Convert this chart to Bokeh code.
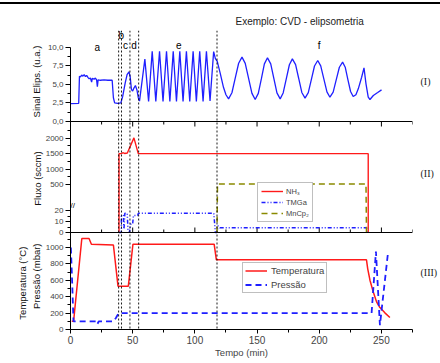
from bokeh.plotting import figure
from bokeh.models import (Range1d, FixedTicker, SingleIntervalTicker, LinearAxis,
                          Span, Legend, LegendItem, Title, Div)
from bokeh.layouts import column
from bokeh.core.properties import value
from bokeh.embed import file_html
from bokeh.resources import INLINE

# ---------------- data ----------------
# Panel I: ellipsometry signal (u.a.) vs time (min)
t_sig = [0, 6.6, 7.2, 8.0, 9.0, 10.0, 11.0, 12.0, 13.0, 14.0, 15.0, 16.0, 17.0, 17.5, 19.0,
         20.0, 21.0, 21.6, 22.2, 24.0, 27.0, 30.0, 33.5, 34.5, 35.5, 38.0, 40.5, 42.0, 44.0,
         45.5, 47.0, 48.0, 49.0, 50.0, 51.0, 52.2, 53.5, 54.5, 55.5,
         59.8, 62.8, 65.7, 68.6, 71.6, 74.4, 77.2, 79.9, 82.6, 85.2, 87.9, 90.5, 93.2, 95.9,
         98.6, 101.2, 103.9, 106.6, 109.3, 112.2, 115.1, 116.5, 118.0, 120.5, 123.0, 125.0, 127.1,
         129.8, 132.5, 135.2, 137.9, 140.5, 143.2, 145.9, 148.5, 151.0, 153.5, 155.9, 158.4,
         161.0, 163.5, 166.0, 168.6, 171.0, 173.5, 176.0, 178.4, 181.0, 183.5, 186.0, 188.6,
         191.2, 193.7, 196.2, 198.8, 201.2, 203.7, 206.2, 208.6, 211.2, 213.7, 216.2, 218.8,
         220.9, 223.0, 225.2, 227.3, 229.5, 231.4, 234.1, 236.0, 237.6, 239.4, 240.8, 243.5,
         247.0, 250.1]
sig = [2.4, 2.45, 6.1, 6.0, 6.25, 6.1, 6.3, 6.05, 6.2, 5.95, 5.75, 5.85, 5.3, 5.8, 5.7,
       5.85, 5.6, 4.7, 5.6, 5.55, 5.6, 5.55, 5.55, 3.2, 2.5, 2.45, 2.5, 3.4, 5.2,
       6.3, 6.7, 6.0, 4.3, 4.1, 4.5, 4.85, 4.2, 3.2, 2.75,
       8.4, 2.7, 9.45, 2.7, 9.45, 2.7, 9.45, 2.7, 9.45, 2.7, 9.45, 2.7, 9.45, 2.7,
       9.45, 2.7, 9.45, 2.7, 9.45, 2.75, 9.4, 8.45, 8.1, 6.4, 4.6, 3.6, 3.05,
       3.87, 5.86, 7.84, 8.66, 7.83, 5.81, 3.79, 2.96, 3.78, 5.77, 7.75, 8.57,
       7.76, 5.81, 3.86, 3.05, 3.84, 5.74, 7.64, 8.43, 7.66, 5.79, 3.91, 3.14,
       3.88, 5.68, 7.47, 8.21, 7.49, 5.74, 3.99, 3.27, 3.96, 5.63, 7.30, 7.99,
       7.31, 5.68, 4.04, 3.36, 3.6, 4.4, 5.96, 7.22, 5.07, 3.27, 2.96, 3.5,
       3.9, 4.26]

# Panel II: gas flows (sccm)
t_nh3 = [39.0, 39.0, 41.0, 42.0, 43.5, 45.7, 51.0, 54.5, 239.4, 239.4]
nh3 = [0, 1500, 1500, 1530, 1505, 1520, 2010, 1500, 1500, 0]
t_tmga = [39.0, 40.9, 40.9, 42.5, 43.0, 43.7, 45.6, 46.2, 47.3, 48.6, 50.0, 50.6, 54.0, 54.6,
          115.2, 116.5, 117.8, 118.6, 120.0, 238.0, 238.3]
tmga = [0, 0, 15.5, 15.5, 3, 17.5, 17.5, 3, 0, 8, 8, 15.5, 15.5, 17.5,
        17.5, 0, 0, 6, 4.4, 4.4, 0]
t_mn = [117.8, 118.2, 237.6, 238.0]
mncp2 = [0, 520, 520, 0]

# Panel III: temperature (C) and pressure (mbar)
t_temp = [1.0, 2.5, 9.1, 14.9, 16.8, 34.5, 38.2, 46.5, 50.2, 115.5, 117.3, 238.0, 239.0,
          240.8, 243.4, 246.1, 248.8, 252.8, 256.8]
temp = [100, 100, 1110, 1110, 1040, 1030, 528, 528, 1040, 1040, 850, 850, 740,
        601, 459, 337, 268, 203, 146]
t_pres = [0.3, 1.4, 2.4, 20.5, 21.6, 22.7, 34.5, 36.5, 38.5, 40.0, 242.1, 245.6, 248.8, 255.4]
pres = [1000, 550, 100, 100, 65, 100, 100, 140, 195, 200, 200, 950, 52, 950]

# stage boundaries and labels
vlines = [38.7, 41.0, 47.8, 54.8, 117.8]
stage_labels = ["a", "b", "c", "d", "e", "f"]
stage_x = [21.6, 40.9, 44.3, 51.0, 87.0, 200.0]
stage_y = [10.0, 11.57, 10.23, 10.23, 10.32, 10.23]

sig_ticks = [0, 2.5, 5, 7.5, 10]
sig_minor = [1.25, 3.75, 6.25, 8.75]
flow_ticks = [0, 10, 20, 500, 1000, 1500, 2000]
flow_minor = [5, 15, 750, 1250, 1750, 2250]
temp_ticks = [0, 200, 400, 600, 800, 1000]
temp_minor = [100, 300, 500, 700, 900, 1100]
time_major = [0, 50, 100, 150, 200, 250]
time_minor = [25, 75, 125, 175, 225, 275]

# ---------------- styling ----------------
FONT = "Liberation Sans"
SERIF = "Liberation Serif"
BLUE = "#1f1fff"
RED = "#ff1a1a"
OLIVE = "#8a8a00"

# broken flow axis: lower segment (0-25 sccm) and upper segment (>=500 sccm)
LOW_K = 1.1
UP_BASE = 48.0
UP_K = 0.03087


def brk(v):
    return v * LOW_K if v < 100 else UP_BASE + (v - 500) * UP_K


# one frame, three stacked panels, each with its own y range
main_r = Range1d(0, 3646.3)          # panel III: temperature / pressure
sig_r = Range1d(-27.994, 12.248)     # panel I
flow_r = Range1d(-97, 202)           # panel II (broken axis units)


def to_main(v, r):
    return (v - r.start) / (r.end - r.start) * (main_r.end - main_r.start) + main_r.start


p = figure(width=440, height=356, x_range=Range1d(0, 275), y_range=main_r,
           output_backend="svg", toolbar_location=None, title=None,
           min_border_left=70, min_border_right=27, min_border_top=26, min_border_bottom=31,
           background_fill_color="white", border_fill_color="white")
p.extra_y_ranges = {"sig": sig_r, "flow": flow_r}
p.outline_line_color = None
p.grid.visible = False

# title
p.add_layout(Title(text="Exemplo: CVD - elipsometria", align="left", offset=165, standoff=8,
                   text_font=FONT, text_font_size="10px", text_font_style="normal",
                   text_color="#222222"), "above")

# stage separators
for xv in vlines:
    p.add_layout(Span(location=xv, dimension="height", line_color="black",
                      line_width=0.9, line_dash="2 2"))

# panel separators (axis lines with inward ticks)
for yv, d in [(111, -1), (0, 1)]:
    p.add_layout(Span(location=yv, dimension="width", y_range_name="flow",
                      line_color="black", line_width=1))
    p.segment(x0=time_major, x1=time_major, y0=[yv] * len(time_major),
              y1=[yv + 5 * d] * len(time_major), y_range_name="flow",
              line_color="black", line_width=1)
    p.segment(x0=time_minor, x1=time_minor, y0=[yv] * len(time_minor),
              y1=[yv + 3 * d] * len(time_minor), y_range_name="flow",
              line_color="black", line_width=1)

# ---- panel I
p.line(t_sig, sig, y_range_name="sig", line_color=BLUE, line_width=1.3)
p.text(x=stage_x, y=stage_y, text=stage_labels, y_range_name="sig", text_align="center",
       text_baseline="middle", text_font=value(FONT), text_font_size="10px", text_color="black")

# ---- panel II
r_nh3 = p.line(t_nh3, [brk(v) for v in nh3], y_range_name="flow", line_color=RED, line_width=1.4)
r_tmga = p.line(t_tmga, [brk(v) for v in tmga], y_range_name="flow", line_color=BLUE,
                line_width=1.5, line_dash="4 2 1 2 1 2")
r_mn = p.line(t_mn, [brk(v) for v in mncp2], y_range_name="flow", line_color=OLIVE,
              line_width=1.5, line_dash="6 4")
p.text(x=[0], y=[27], text=["//"], y_range_name="flow", text_align="left",
       text_baseline="middle", text_font=value(FONT), text_font_size="8px", text_color="black")

# ---- panel III
r_temp = p.line(t_temp, temp, line_color=RED, line_width=1.5)
r_pres = p.line(t_pres, pres, line_color=BLUE, line_width=1.8, line_dash="6 4")

# legends
leg2 = Legend(items=[LegendItem(label="NH₃", renderers=[r_nh3]),
                     LegendItem(label="TMGa", renderers=[r_tmga]),
                     LegendItem(label="MnCp₂", renderers=[r_mn])],
              location=(187, 107), label_text_font=FONT, label_text_font_size="7.5px",
              label_height=10, glyph_height=10, glyph_width=22, label_standoff=3,
              padding=3, spacing=1, margin=0, border_line_color="#808080",
              border_line_width=1, background_fill_alpha=1)
leg3 = Legend(items=[LegendItem(label="Temperatura", renderers=[r_temp]),
                     LegendItem(label="Pressão", renderers=[r_pres])],
              location=(172, 36), label_text_font=FONT, label_text_font_size="9.5px",
              label_height=9, glyph_height=9, glyph_width=22, label_standoff=4,
              padding=2, spacing=3, margin=0, border_line_color="#808080",
              border_line_width=1, background_fill_alpha=1)
p.add_layout(leg2)
p.add_layout(leg3)

# ---- left axis: tick labels of all three panels
yticks = ([to_main(v, sig_r) for v in sig_ticks] +
          [to_main(brk(v), flow_r) for v in flow_ticks] + temp_ticks)
ylabels = ([f"{v:.1f}".replace(".", ",") for v in sig_ticks] +
           [str(v) for v in flow_ticks] + [str(v) for v in temp_ticks])
yminor = ([to_main(v, sig_r) for v in sig_minor] +
          [to_main(brk(v), flow_r) for v in flow_minor] + temp_minor)
ay = p.yaxis[0]
ay.ticker = FixedTicker(ticks=yticks, minor_ticks=yminor)
ay.major_label_overrides = dict(zip(yticks, ylabels))
ay.bounds = (0, to_main(10, sig_r))
ay.major_label_text_font = FONT
ay.major_label_text_font_size = "8px"
ay.major_label_standoff = 2
ay.major_tick_out = 5
ay.major_tick_in = 0
ay.minor_tick_out = 3
ay.minor_tick_in = 0
ay.axis_line_color = "black"


def title_axis(ticks, labels, standoff):
    return LinearAxis(ticker=FixedTicker(ticks=ticks, minor_ticks=[]),
                      major_label_overrides=dict(zip(ticks, labels)),
                      major_label_orientation="parallel", major_label_standoff=standoff,
                      major_label_text_font=FONT, major_label_text_font_size="9.5px",
                      major_label_text_color="#111111",
                      axis_line_color=None, major_tick_line_color=None,
                      minor_tick_line_color=None, major_tick_out=0, major_tick_in=0,
                      minor_tick_out=0, minor_tick_in=0)


# axis titles of the panels, as rotated labels of two outer axes
ylab_pos = [to_main(5.38, sig_r), to_main(54, flow_r), 650]
p.add_layout(title_axis(ylab_pos, ["Sinal Elips. (u.a.)", "Fluxo (sccm)", "Pressão (mbar)"], 0),
             "left")
p.add_layout(title_axis([565], ["Temperatura (°C)"], 0), "left")

# right-side panel marks
rpos = [to_main(5.45, sig_r), to_main(58.7, flow_r), 690]
ar = LinearAxis(ticker=FixedTicker(ticks=rpos, minor_ticks=[]),
                major_label_overrides=dict(zip(rpos, ["(I)", "(II)", "(III)"])),
                major_label_standoff=8, major_label_text_font=SERIF,
                major_label_text_font_size="10px", major_label_text_color="#222222",
                axis_line_color=None, major_tick_line_color=None, minor_tick_line_color=None,
                major_tick_out=0, major_tick_in=0, minor_tick_out=0, minor_tick_in=0)
p.add_layout(ar, "right")

# bottom time axis
ax = p.xaxis[0]
ax.ticker = SingleIntervalTicker(interval=50, num_minor_ticks=2)
ax.axis_label = "Tempo (min)"
ax.axis_label_text_font = FONT
ax.axis_label_text_font_size = "9.5px"
ax.axis_label_text_font_style = "normal"
ax.axis_label_standoff = 0
ax.major_label_text_font = FONT
ax.major_label_text_font_size = "10px"
ax.major_label_standoff = 2
ax.major_tick_out = 4
ax.major_tick_in = 0
ax.minor_tick_out = 3
ax.minor_tick_in = 0
ax.axis_line_color = "black"

# slide rule line across the top of the page
rule = Div(text="", width=440, height=2, margin=(2, 0, 0, 0),
           styles={"background-color": "black"})

layout = column(rule, p, spacing=0)
open("out.html", "w").write(file_html(layout, INLINE, title="CVD - elipsometria"))
